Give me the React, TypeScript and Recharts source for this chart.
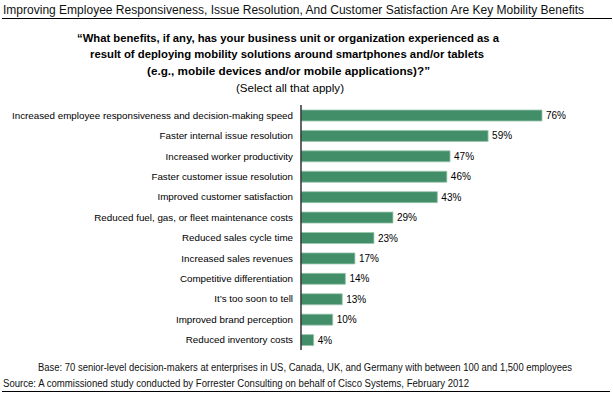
import { BarChart, Bar, XAxis, YAxis, LabelList } from 'recharts'

const benefits = [
  'Increased employee responsiveness and decision-making speed',
  'Faster internal issue resolution',
  'Increased worker productivity',
  'Faster customer issue resolution',
  'Improved customer satisfaction',
  'Reduced fuel, gas, or fleet maintenance costs',
  'Reduced sales cycle time',
  'Increased sales revenues',
  'Competitive differentiation',
  'It\u2019s too soon to tell',
  'Improved brand perception',
  'Reduced inventory costs',
]

const shares = [76, 59, 47, 46, 43, 29, 23, 17, 14, 13, 10, 4]

const title = 'Improving Employee Responsiveness, Issue Resolution, And Customer Satisfaction Are Key Mobility Benefits'
const questionLines = [
  '\u201cWhat benefits, if any, has your business unit or organization experienced as a',
  'result of deploying mobility solutions around smartphones and/or tablets',
  '(e.g., mobile devices and/or mobile applications)?\u201d',
]
const selectNote = '(Select all that apply)'
const baseNote = 'Base: 70 senior-level decision-makers at enterprises in US, Canada, UK, and Germany with between 100 and 1,500 employees'
const sourceNote = 'Source: A commissioned study conducted by Forrester Consulting on behalf of Cisco Systems, February 2012'

const data = benefits.map((name, i) => ({ name, value: shares[i] }))

const font = '"Liberation Sans", Arial, sans-serif'

// plain one-line tick, recharts would wrap the long first label otherwise
function CategoryTick(props: any) {
  const { x, y, payload } = props
  return (
    <text x={x} y={y} dy={3.5} textAnchor="end" fontSize={9.8} fontFamily={font} fill="#000">
      {payload.value}
    </text>
  )
}

export default function App() {
  return (
    <div style={{ position: 'absolute', left: 0, top: 0, width: 613, height: 397, background: '#fff' }}>
      <BarChart
        width={613}
        height={397}
        data={data}
        layout="vertical"
        margin={{ top: 105, right: 71, bottom: 47, left: 0 }}
        barCategoryGap={0}
      >
        <XAxis type="number" domain={[0, 76]} hide />
        <YAxis
          type="category"
          dataKey="name"
          width={301}
          axisLine={{ stroke: '#333', strokeWidth: 1.5 }}
          tickLine={false}
          interval={0}
          tick={<CategoryTick />}
        />
        <Bar dataKey="value" fill="#418e68" stroke="#9cc7af" strokeWidth={0.8} barSize={11} isAnimationActive={false}>
          <LabelList
            dataKey="value"
            position="right"
            offset={4}
            formatter={(v: number) => `${v}%`}
            style={{ fontSize: 10, fill: '#000', fontFamily: font }}
          />
        </Bar>
      </BarChart>
      <svg width={613} height={397} style={{ position: 'absolute', left: 0, top: 0, pointerEvents: 'none' }}>
        <text x={3} y={13.5} fontSize={12} fontFamily={font} fill="#111" textLength={581} lengthAdjust="spacingAndGlyphs">
          {title}
        </text>
        <line x1={2} y1={18.5} x2={612} y2={18.5} stroke="#000" strokeWidth={1} />
        <text x={77} y={42} fontSize={11} fontWeight="bold" fontFamily={font} fill="#000" textLength={422} lengthAdjust="spacingAndGlyphs">
          {questionLines[0]}
        </text>
        <text x={90} y={58} fontSize={11} fontWeight="bold" fontFamily={font} fill="#000" textLength={394} lengthAdjust="spacingAndGlyphs">
          {questionLines[1]}
        </text>
        <text x={147} y={75} fontSize={11} fontWeight="bold" fontFamily={font} fill="#000" textLength={283} lengthAdjust="spacingAndGlyphs">
          {questionLines[2]}
        </text>
        <text x={236} y={92} fontSize={11} fontFamily={font} fill="#000" textLength={108} lengthAdjust="spacingAndGlyphs">
          {selectNote}
        </text>
        <text x={38} y={371} fontSize={10} fontFamily={font} fill="#111" textLength={534} lengthAdjust="spacingAndGlyphs">
          {baseNote}
        </text>
        <text x={3} y={387} fontSize={10} fontFamily={font} fill="#111" textLength={466} lengthAdjust="spacingAndGlyphs">
          {sourceNote}
        </text>
        <line x1={2} y1={391.5} x2={610} y2={391.5} stroke="#000" strokeWidth={1} />
      </svg>
    </div>
  )
}
